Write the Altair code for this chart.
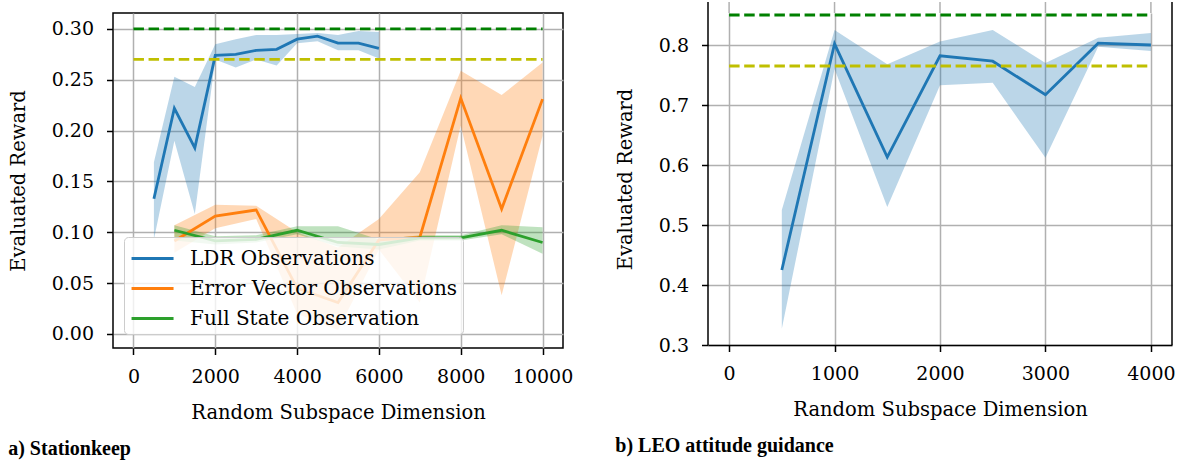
import altair as alt
import pandas as pd

# ---------------- data ----------------
# a) Stationkeep
series_names = ["LDR Observations", "Error Vector Observations", "Full State Observation"]
series_colors = ["#1f77b4", "#ff7f0e", "#2ca02c"]

ldr_x = [500, 1000, 1500, 2000, 2500, 3000, 3500, 4000, 4500, 5000, 5500, 6000]
ldr_mean = [0.133, 0.222, 0.183, 0.274, 0.275, 0.279, 0.280, 0.290, 0.293, 0.286, 0.286, 0.281]
ldr_lo = [0.093, 0.190, 0.118, 0.270, 0.262, 0.270, 0.264, 0.286, 0.288, 0.279, 0.279, 0.271]
ldr_hi = [0.169, 0.253, 0.243, 0.285, 0.290, 0.294, 0.294, 0.295, 0.296, 0.294, 0.298, 0.297]

err_x = [1000, 2000, 3000, 4000, 5000, 6000, 7000, 8000, 9000, 10000]
err_mean = [0.0915, 0.116, 0.122, 0.045, 0.031, 0.0925, 0.095, 0.232, 0.123, 0.231]
err_lo = [0.080, 0.104, 0.113, 0.020, 0.004, 0.083, 0.031, 0.205, 0.038, 0.195]
err_hi = [0.107, 0.127, 0.126, 0.100, 0.085, 0.113, 0.159, 0.259, 0.235, 0.267]

full_x = [1000, 2000, 3000, 4000, 5000, 6000, 7000, 8000, 9000, 10000]
full_mean = [0.102, 0.0915, 0.093, 0.102, 0.090, 0.088, 0.0945, 0.0945, 0.102, 0.090]
full_lo = [0.092, 0.088, 0.090, 0.098, 0.086, 0.083, 0.092, 0.092, 0.098, 0.079]
full_hi = [0.107, 0.096, 0.097, 0.106, 0.106, 0.093, 0.097, 0.097, 0.107, 0.105]

a_ref_green = 0.30
a_ref_yellow = 0.27
a_ref_span = [0, 10000]
a_xticks = [0, 2000, 4000, 6000, 8000, 10000]
a_yticks = [0.0, 0.05, 0.10, 0.15, 0.20, 0.25, 0.30]

# b) LEO attitude guidance
leo_x = [500, 1000, 1500, 2000, 2500, 3000, 3500, 4000]
leo_mean = [0.425, 0.802, 0.613, 0.782, 0.773, 0.717, 0.803, 0.800]
leo_lo = [0.327, 0.760, 0.530, 0.733, 0.737, 0.612, 0.797, 0.790]
leo_hi = [0.525, 0.825, 0.768, 0.806, 0.825, 0.770, 0.812, 0.820]

b_ref_green = 0.85
b_ref_yellow = 0.765
b_ref_span = [0, 4000]
b_xticks = [0, 1000, 2000, 3000, 4000]
b_yticks = [0.3, 0.4, 0.5, 0.6, 0.7, 0.8]

# ---------------- tables ----------------
rows = []
for name, xs, m, lo, hi in [
    (series_names[0], ldr_x, ldr_mean, ldr_lo, ldr_hi),
    (series_names[1], err_x, err_mean, err_lo, err_hi),
    (series_names[2], full_x, full_mean, full_lo, full_hi),
]:
    for i in range(len(xs)):
        rows.append({"x": xs[i], "series": name, "mean": m[i], "lo": lo[i], "hi": hi[i]})
df_a = pd.DataFrame(rows)
df_b = pd.DataFrame({"x": leo_x, "mean": leo_mean, "lo": leo_lo, "hi": leo_hi})

ref_a = pd.DataFrame({"x": [a_ref_span[0]] * 2, "x2": [a_ref_span[1]] * 2,
                      "y": [a_ref_green, a_ref_yellow], "kind": ["green", "yellow"]})
ref_b = pd.DataFrame({"x": [b_ref_span[0]] * 2, "x2": [b_ref_span[1]] * 2,
                      "y": [b_ref_green, b_ref_yellow], "kind": ["green", "yellow"]})

FONT = "DejaVu Serif"
CAP_FONT = "Liberation Serif"
GRID = "#b0b0b0"
LW = 2.8
DASH = [10.5, 4.6]
AX = dict(labelFont=FONT, labelFontSize=19, labelColor="black", labelPadding=13,
          titleFont=FONT, titleFontSize=19.5, titleFontWeight="normal", titleColor="black",
          tickColor="black", tickSize=6.5, tickWidth=1.5,
          gridColor=GRID, gridWidth=1.5, gridOpacity=1)

# ---------------- panel a ----------------
WA, HA = 450, 335
xa = alt.Scale(domain=[-500, 10500], nice=False, zero=False)
ya = alt.Scale(domain=[-0.0138, 0.3157], nice=False, zero=False)

x_axis_a = alt.Axis(values=a_xticks, title="Random Subspace Dimension", domain=False, format="d",
                    titlePadding=17, **AX)
y_axis_a = alt.Axis(values=a_yticks, title="Evaluated Reward", domain=False, format=".2f",
                    titlePadding=23, **AX)

base_a = alt.Chart(df_a)
band_a = base_a.mark_area(opacity=0.3).encode(
    x=alt.X("x:Q", scale=xa, axis=x_axis_a),
    y=alt.Y("lo:Q", scale=ya, axis=y_axis_a),
    y2="hi:Q",
    fill=alt.Fill("series:N", scale=alt.Scale(domain=series_names, range=series_colors), legend=None),
    detail="series:N",
)
line_a = base_a.mark_line(strokeWidth=LW).encode(
    x=alt.X("x:Q", scale=xa),
    y=alt.Y("mean:Q", scale=ya),
    color=alt.Color(
        "series:N",
        scale=alt.Scale(domain=series_names, range=series_colors),
        legend=alt.Legend(
            title=None, orient="none", legendX=11, legendY=224,
            symbolType="M-0.93,0H1.87", symbolSize=900, symbolStrokeWidth=LW,
            labelFont=FONT, labelFontSize=20, labelColor="black", labelOffset=28,
            padding=5, rowPadding=3,
            fillColor="rgba(255,255,255,0.8)", strokeColor="#cccccc", cornerRadius=4,
            labelLimit=400,
        ),
    ),
)
ref_lines_a = alt.Chart(ref_a).mark_rule(strokeWidth=LW, strokeDash=DASH).encode(
    x=alt.X("x:Q", scale=xa), x2="x2:Q",
    y=alt.Y("y:Q", scale=ya),
    color=alt.Color("kind:N", scale=alt.Scale(domain=["green", "yellow"], range=["#008000", "#bfbf00"]), legend=None),
)
panel_a = alt.layer(band_a, line_a, ref_lines_a).resolve_scale(color="independent").properties(
    width=WA, height=HA,
    title=alt.TitleParams("a) Stationkeep", orient="bottom", anchor="start", font=CAP_FONT,
                          fontSize=20, fontWeight="bold", color="black", offset=17),
)

# ---------------- panel b ----------------
WB, HB = 464, 332
EXT = -11
xb = alt.Scale(domain=[-200, 4200], nice=False, zero=False)
yb = alt.Scale(domain=[0.3, 0.8 + 32 / 600], nice=False, zero=False)

x_axis_b = alt.Axis(values=b_xticks, title="Random Subspace Dimension", domain=True, domainColor="black",
                    domainWidth=1.5, format="d", titlePadding=17, **AX)
y_axis_b = alt.Axis(values=b_yticks, title="Evaluated Reward", domain=False, format=".1f",
                    titlePadding=23, **AX)

base_b = alt.Chart(df_b)
band_b = base_b.mark_area(opacity=0.3, color=series_colors[0]).encode(
    x=alt.X("x:Q", scale=xb, axis=x_axis_b),
    y=alt.Y("lo:Q", scale=yb, axis=y_axis_b),
    y2="hi:Q",
)
line_b = base_b.mark_line(strokeWidth=LW, color=series_colors[0]).encode(
    x=alt.X("x:Q", scale=xb),
    y=alt.Y("mean:Q", scale=yb),
)
ref_lines_b = alt.Chart(ref_b).mark_rule(strokeWidth=LW, strokeDash=DASH).encode(
    x=alt.X("x:Q", scale=xb), x2="x2:Q",
    y=alt.Y("y:Q", scale=yb),
    color=alt.Color("kind:N", scale=alt.Scale(domain=["green", "yellow"], range=["#008000", "#bfbf00"]), legend=None),
)
# the plot frame of panel b continues above the visible top edge
grid_ext = alt.Chart(pd.DataFrame({"x": b_xticks})).mark_rule(color=GRID, strokeWidth=1.5).encode(
    x=alt.X("x:Q", scale=xb), y=alt.value(EXT), y2=alt.value(0),
)
frame_left = alt.Chart(pd.DataFrame({"k": [0]})).mark_rule(color="black", strokeWidth=1.5).encode(
    x=alt.value(0), y=alt.value(EXT), y2=alt.value(HB),
)
frame_right = alt.Chart(pd.DataFrame({"k": [0]})).mark_rule(color="black", strokeWidth=1.5).encode(
    x=alt.value(WB), y=alt.value(EXT), y2=alt.value(HB),
)
panel_b = alt.layer(band_b, line_b, ref_lines_b, grid_ext, frame_left, frame_right).properties(
    width=WB, height=HB,
    view=alt.ViewBackground(stroke="transparent"),
    title=alt.TitleParams("b) LEO attitude guidance", orient="bottom", anchor="start", font=CAP_FONT,
                          fontSize=20, fontWeight="bold", color="black", offset=17),
)

chart = alt.hconcat(panel_a, panel_b, spacing=40).properties(
    padding={"left": 7, "top": 0, "right": 0, "bottom": 0},
    background="white",
).configure(font=FONT).configure_view(
    stroke="black", strokeWidth=1.5,
)

chart.save("out.html", embed_options={"renderer": "svg", "actions": False})
